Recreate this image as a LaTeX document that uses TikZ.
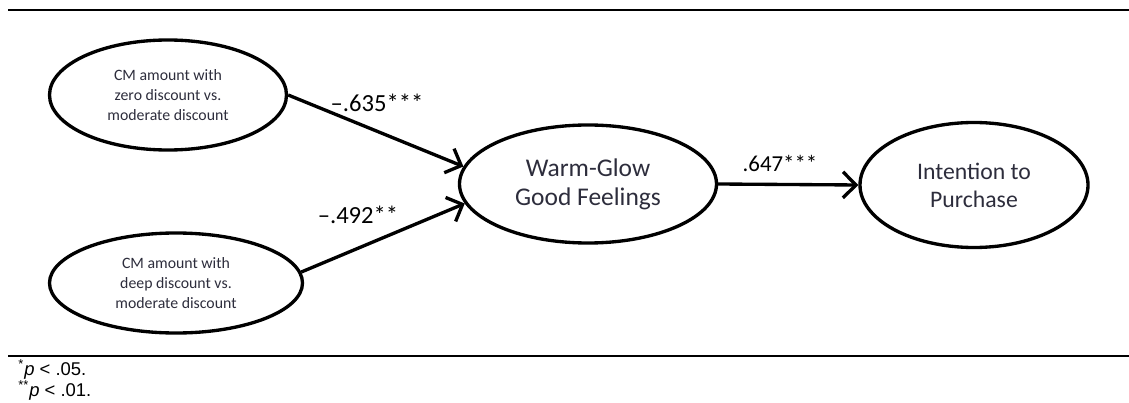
\documentclass[tikz,border=0pt]{standalone}
\usepackage{fontspec}
\setmainfont{Carlito}
\newfontfamily\notefont{Liberation Sans}
\usepackage{tikz}
\usetikzlibrary{positioning,arrows.meta,shapes.geometric}
\definecolor{nodetext}{RGB}{45,45,60}
\tikzset{
  patharrow/.style={-{Straight Barb[length=2.6mm,width=5.2mm,line width=1.9pt]}, line width=1.9pt},
  construct/.style={draw, ellipse, line width=1.9pt, inner sep=0pt, align=center, text=nodetext},
  smallvar/.style={construct, font=\fontsize{9}{11.4}\selectfont},
  bigvar/.style={construct, font=\fontsize{14.5}{16.5}\selectfont},
  coef/.style={font=\fontsize{14}{16}\selectfont, inner sep=1pt},
  tablerule/.style={line width=1.2pt}
}

\begin{document}
\begin{tikzpicture}[>=Latex]
  \useasboundingbox (0,0) rectangle (22.58,-8.06);
  \draw[tablerule] (0.16,-0.2) -- (22.58,-0.2);
  \draw[tablerule] (0.16,-7.12) -- (22.58,-7.12);

  \node[smallvar, minimum width=4.74cm, minimum height=2.2cm] (zero) at (3.36,-1.9) {CM amount with\\ zero discount vs.\\ moderate discount};
  \node[smallvar, minimum width=5.06cm, minimum height=2.0cm] (deep) at (3.52,-5.66) {CM amount with\\ deep discount vs.\\ moderate discount};
  \node[bigvar, minimum width=5.14cm, minimum height=2.36cm] (warm) at (11.76,-3.68) {Warm-Glow\\ Good Feelings};
  \node[bigvar, minimum width=4.56cm, minimum height=2.5cm, font=\fontsize{13.5}{16}\selectfont] (intent) at (19.48,-3.7) {Intention to\\ Purchase};

  \draw[patharrow] (zero.east) -- (warm.172);
  \draw[patharrow] (deep.5) -- (warm.189);
  \draw[patharrow] (warm.east) -- (intent.west);

  \node[coef] (c635) at (7.54,-2.05) {--.635***};
  \node[coef] (c492) at (7.16,-4.3) {--.492**};
  \node[coef, font=\fontsize{13}{15}\selectfont] (c647) at (15.6,-3.26) {.647***};

  \node[anchor=north west, inner sep=0pt, align=left, font=\notefont\fontsize{10.5}{9.8}\selectfont] (pnote) at (0.36,-7.18) {\textsuperscript{*}\textit{p} < .05.\\ \textsuperscript{**}\textit{p} < .01.};
\end{tikzpicture}
\end{document}
